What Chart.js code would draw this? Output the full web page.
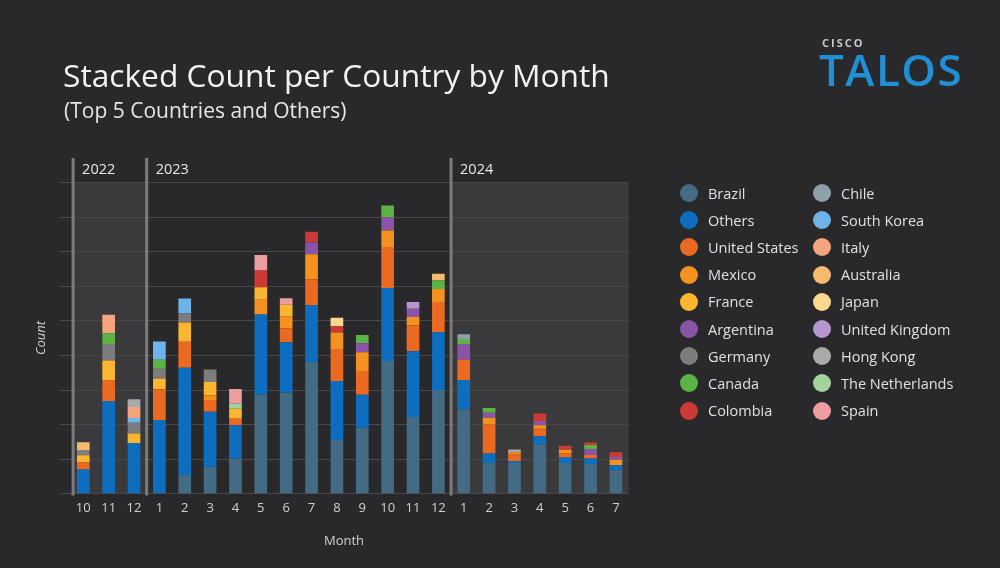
<!DOCTYPE html>
<html>
<head>
<meta charset="utf-8">
<script src="https://cdn.jsdelivr.net/npm/chart.js@4/dist/chart.umd.min.js"></script>
<style>
  html, body { margin: 0; padding: 0; background: #29292b; }
  body { width: 1000px; height: 568px; position: relative; overflow: hidden; font-family: "Open Sans", sans-serif; }
  #wrap { position: absolute; left: 0; top: 0; width: 1000px; height: 568px; }
  .title { position: absolute; left: 63px; top: 53px; color: #f2f2f2; font-size: 31.7px; line-height: 44px; white-space: nowrap; }
  .subtitle { position: absolute; left: 64px; top: 95px; color: #e6e6e6; font-size: 21px; line-height: 30px; white-space: nowrap; }
  .cisco { position: absolute; left: 822px; top: 35px; color: #c9c9c9; font-size: 11px; font-weight: 700; letter-spacing: 2px; line-height: 16px; }
  .talos { position: absolute; left: 819px; top: 43px; color: #1f8fd6; font-size: 44px; font-weight: 600; letter-spacing: 1.5px; line-height: 52px; }
  .axis-x { position: absolute; left: 304px; top: 531px; width: 80px; text-align: center; color: #d0d0d0; font-size: 13px; line-height: 18px; }
  .axis-y { position: absolute; left: 10px; top: 329px; width: 60px; text-align: center; color: #d0d0d0; font-size: 13px; font-style: italic; line-height: 18px; transform: rotate(-90deg); }
  #legend { position: absolute; left: 680px; top: 179px; }
  .item { position: absolute; height: 28px; display: flex; align-items: center; white-space: nowrap; color: #e0e0e0; font-size: 14.5px; }
  .dot { width: 18px; height: 18px; border-radius: 50%; margin-right: 10px; }
</style>
</head>
<body>
<div id="wrap"><canvas id="countryChart" width="1000" height="568"></canvas></div>
<div class="title">Stacked Count per Country by Month</div>
<div class="subtitle">(Top 5 Countries and Others)</div>
<div class="cisco">CISCO</div>
<div class="talos">TALOS</div>
<div class="axis-x">Month</div>
<div class="axis-y">Count</div>
<div id="legend"></div>
<script>
    // labels

const months = ['10', '11', '12', '1', '2', '3', '4', '5', '6', '7', '8', '9', '10', '11', '12', '1', '2', '3', '4', '5', '6', '7'];
const years = ['2022', '2023', '2024'];
const yearStart = [0, 3, 15];

    // data (one value per month)

const brazil      = [0, 0, 0, 0, 5.3, 7.7, 10.1, 28.6, 29.1, 38.0, 15.4, 19.0, 38.3, 22.1, 29.9, 24.3, 8.8, 8.8, 14.2, 8.8, 8.5, 6.7];
const others      = [6.9, 26.7, 14.6, 21.2, 31.0, 15.9, 9.6, 23.1, 14.6, 16.4, 17.1, 9.5, 21.1, 19.0, 16.7, 8.5, 2.7, 0.5, 2.3, 1.6, 1.6, 1.4];
const us          = [2.1, 5.9, 0, 8.9, 7.5, 3.4, 1.9, 0, 4.0, 7.4, 9.2, 6.9, 11.8, 7.5, 8.7, 5.8, 8.4, 2.0, 2.2, 1.2, 1.0, 0];
const mexico      = [0, 0, 0, 0, 0, 1.4, 0, 4.3, 3.4, 7.3, 4.8, 5.4, 4.8, 2.4, 3.8, 0, 2.0, 0.6, 1.0, 1.0, 0, 1.6];
const france      = [2.0, 5.8, 2.7, 3.1, 5.6, 3.8, 2.9, 3.6, 3.4, 0, 0, 0, 0, 0, 0, 0, 0, 0, 0, 0, 0, 0];
const argentina   = [0, 0, 0, 0, 0, 0, 0, 0, 0, 3.4, 0, 2.6, 3.8, 2.4, 0, 4.6, 1.4, 0, 1.2, 0, 1.7, 0.8];
const germany     = [1.4, 4.8, 3.1, 2.8, 2.6, 3.6, 0, 0, 0, 0, 0, 0, 0, 0, 0, 0, 0, 0, 0, 0, 0, 0];
const canada      = [0, 3.1, 0, 2.6, 0, 0, 0, 0, 0, 0, 0, 2.4, 3.4, 0, 2.4, 1.4, 1.4, 0, 0, 0, 1.2, 0];
const colombia    = [0, 0, 0, 0, 0, 0, 0, 4.8, 0, 3.1, 1.9, 0, 0, 0, 0, 0, 0, 0, 2.2, 1.2, 0.7, 1.4];
const chile       = [0, 0, 0, 0, 0, 0, 0, 0, 0, 0, 0, 0, 0, 0, 0, 1.4, 0, 0, 0, 0, 0, 0];
const southKorea  = [0, 0, 1.4, 5.3, 4.3, 0, 0, 0, 0, 0, 0, 0, 0, 0, 0, 0, 0, 0, 0, 0, 0, 0];
const italy       = [0, 5.3, 3.2, 0, 0, 0, 0, 0, 0, 0, 0, 0, 0, 0, 0, 0, 0, 0, 0, 0, 0, 0];
const australia   = [2.4, 0, 0, 0, 0, 0, 0, 0, 0, 0, 0, 0, 0, 0, 2.0, 0, 0, 0, 0, 0, 0, 0];
const japan       = [0, 0, 0, 0, 0, 0, 0, 0, 0, 0, 2.4, 0, 0, 0, 0, 0, 0, 0, 0, 0, 0, 0];
const uk          = [0, 0, 0, 0, 0, 0, 0, 0, 0, 0, 0, 0, 0, 1.9, 0, 0, 0, 0, 0, 0, 0, 0];
const hongKong    = [0, 0, 2.2, 0, 0, 0, 0, 0, 0, 0, 0, 0, 0, 0, 0, 0, 0, 0.8, 0, 0, 0, 0];
const netherlands = [0, 0, 0, 0, 0, 0, 1.4, 0, 0, 0, 0, 0, 0, 0, 0, 0, 0, 0, 0, 0, 0, 0];
const spain       = [0, 0, 0, 0, 0, 0, 4.3, 4.5, 1.9, 0, 0, 0, 0, 0, 0, 0, 0, 0, 0, 0, 0, 0];

const countries = ['Brazil', 'Others', 'United States', 'Mexico', 'France', 'Argentina', 'Germany', 'Canada', 'Colombia',
  'Chile', 'South Korea', 'Italy', 'Australia', 'Japan', 'United Kingdom', 'Hong Kong', 'The Netherlands', 'Spain'];
const series = [brazil, others, us, mexico, france, argentina, germany, canada, colombia,
  chile, southKorea, italy, australia, japan, uk, hongKong, netherlands, spain];
const colors = ['#436b84', '#0d6ebf', '#ea6a22', '#f3921f', '#fbb631', '#8a55a8', '#7d7d7f', '#5bb346', '#cc3a36',
  '#8fa0ab', '#6fb4e8', '#f5a57e', '#f6b970', '#fbd88e', '#b496cc', '#a9a9ab', '#a3d39a', '#ec9da0'];

const yTicks = [0, 10, 20, 30, 40, 50, 60, 70, 80, 90];

    // year bands, grid lines and year markers

const yearPlugin = {
  id: 'years',
  beforeDatasetsDraw(chart) {
    const ctx = chart.ctx;
    const area = chart.chartArea;
    const x = chart.scales.x;
    const y = chart.scales.y;
    const edges = yearStart.map((s, i) => i === 0 ? area.left + 2.5 : (x.getPixelForValue(s - 1) + x.getPixelForValue(s)) / 2);
    edges.push(area.right);
    ctx.save();
    ctx.fillStyle = '#3a3a3c';
    for (let i = 0; i < years.length; i += 2) {
      ctx.fillRect(edges[i], area.top, edges[i + 1] - edges[i], area.bottom - area.top);
    }
    ctx.strokeStyle = '#48484a';
    ctx.lineWidth = 1;
    yTicks.forEach(v => {
      const py = Math.round(y.getPixelForValue(v)) + 0.5;
      ctx.beginPath();
      ctx.moveTo(60, py);
      ctx.lineTo(area.right, py);
      ctx.stroke();
    });
    ctx.restore();
  },
  afterDatasetsDraw(chart) {
    const ctx = chart.ctx;
    const area = chart.chartArea;
    const x = chart.scales.x;
    ctx.save();
    ctx.strokeStyle = '#7c7c7e';
    ctx.lineWidth = 3;
    ctx.fillStyle = '#e6e6e6';
    ctx.font = '14.5px "Open Sans"';
    ctx.textBaseline = 'middle';
    yearStart.forEach((s, i) => {
      const px = i === 0 ? area.left + 2.5 : (x.getPixelForValue(s - 1) + x.getPixelForValue(s)) / 2;
      ctx.beginPath();
      ctx.moveTo(px, 158);
      ctx.lineTo(px, area.bottom + 2);
      ctx.stroke();
      ctx.fillText(years[i], px + 9, 170);
    });
    ctx.restore();
  }
};

    // config

const countryData = {
  labels: months,
  datasets: series.map((d, i) => ({
    label: countries[i],
    data: d,
    backgroundColor: colors[i],
    borderWidth: 0,
    barPercentage: 0.5,
    categoryPercentage: 1
  }))
};

const countryChart = new Chart(document.getElementById('countryChart'), {
  type: 'bar',
  data: countryData,
  options: {
    responsive: false,
    animation: false,
    layout: { padding: { left: 70.6, right: 371.4, top: 182, bottom: 45 } },
    plugins: { legend: { display: false }, tooltip: { enabled: false } },
    scales: {
      x: {
        stacked: true,
        grid: { display: false, drawTicks: false },
        border: { display: false },
        ticks: { color: '#d0d0d0', font: { family: 'Open Sans', size: 13 }, padding: 7, maxRotation: 0, autoSkip: false }
      },
      y: {
        stacked: true,
        display: false,
        min: 0,
        max: 90
      }
    }
  },
  plugins: [yearPlugin]
});

    // legend

const legend = document.getElementById('legend');
countries.forEach((name, i) => {
  const col = Math.floor(i / 9);
  const row = i % 9;
  const item = document.createElement('div');
  item.className = 'item';
  item.style.left = (col * 133) + 'px';
  item.style.top = (row * 27.2) + 'px';
  item.innerHTML = '<span class="dot" style="background:' + colors[i] + '"></span>' + name;
  legend.appendChild(item);
});
</script>
</body>
</html>
